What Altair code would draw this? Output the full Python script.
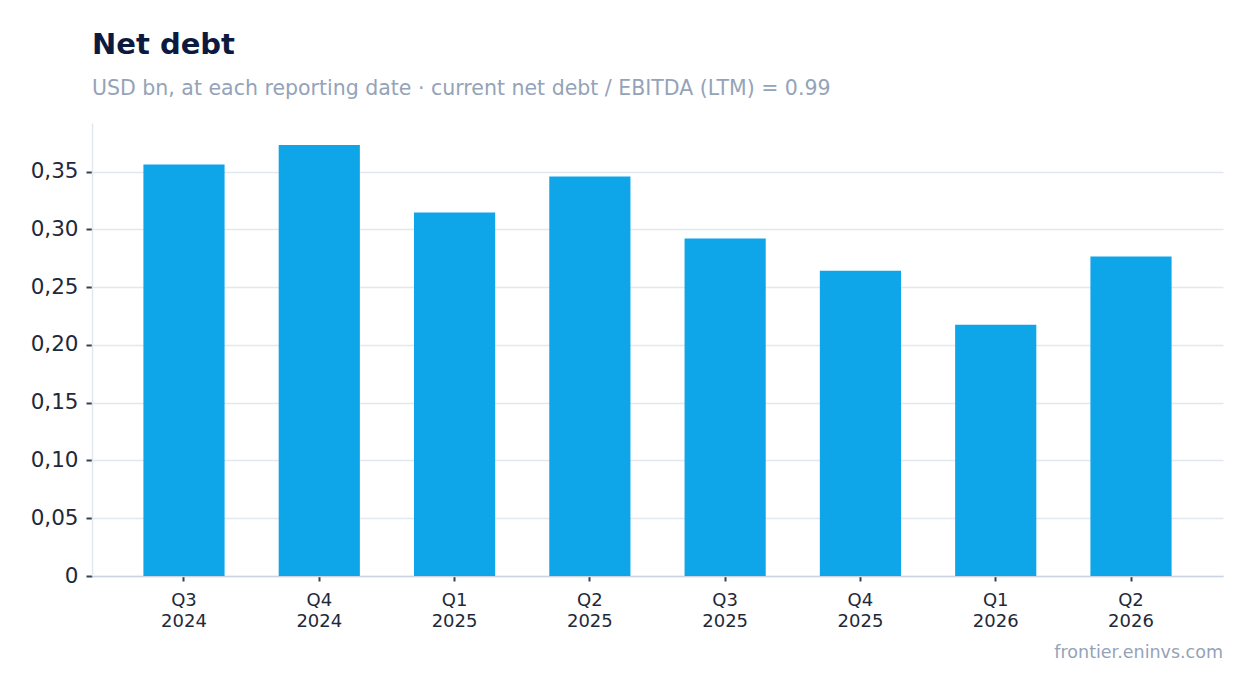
import altair as alt
import pandas as pd

quarters = ["Q3 2024", "Q4 2024", "Q1 2025", "Q2 2025", "Q3 2025", "Q4 2025", "Q1 2026", "Q2 2026"]
net_debt = [0.356, 0.373, 0.3145, 0.3457, 0.292, 0.2642, 0.2174, 0.2764]
y_ticks = [0, 0.05, 0.10, 0.15, 0.20, 0.25, 0.30, 0.35]

df = pd.DataFrame({"quarter": quarters, "net_debt": net_debt})

W, H = 1131, 453

bars = alt.Chart(df).mark_bar(color="#0EA5E9").encode(
    x=alt.X("quarter:N", sort=quarters, title=None,
            scale=alt.Scale(paddingInner=0.4, paddingOuter=0.38),
            axis=alt.Axis(labelAngle=0, labelExpr="split(datum.label, ' ')",
                          labelFontSize=18, labelColor="#1e293b", labelLineHeight=21,
                          labelPadding=10,
                          tickColor="#334155", tickSize=5, tickWidth=2,
                          domainColor="#cbd5e1", domainWidth=1.5)),
    y=alt.Y("net_debt:Q", title=None,
            scale=alt.Scale(domain=[0, 0.392], nice=False),
            axis=alt.Axis(values=y_ticks,
                          labelExpr="datum.value == 0 ? '0' : replace(format(datum.value, '.2f'), '.', ',')",
                          labelFontSize=21.5, labelColor="#1e293b", labelPadding=8,
                          tickColor="#334155", tickSize=6, tickWidth=2,
                          domainColor="#e2e8f0", domainWidth=1.5,
                          gridColor="#e2e8f0", gridWidth=1.5)),
)

footer = alt.Chart(pd.DataFrame({"t": ["frontier.eninvs.com"]})).mark_text(
    align="right", baseline="alphabetic", fontSize=17.5, color="#94a3b8", font="DejaVu Sans"
).encode(text="t:N", x=alt.value(W), y=alt.value(H + 82))

chart = alt.layer(bars, footer).properties(
    width=W, height=H,
    title=alt.TitleParams(
        text="Net debt",
        subtitle="USD bn, at each reporting date · current net debt / EBITDA (LTM) = 0.99",
        anchor="start", frame="group",
        fontSize=29, fontWeight="bold", color="#0c1a40",
        subtitleFontSize=20.5, subtitleColor="#94a3b8", subtitlePadding=19,
        offset=24, font="DejaVu Sans", subtitleFont="DejaVu Sans",
    ),
    autosize=alt.AutoSizeParams(type="none"),
    padding={"left": 84, "top": 115, "right": 23, "bottom": 110},
).configure(font="DejaVu Sans").configure_view(stroke=None)

chart.save("out.html", embed_options={"renderer": "svg", "actions": False})
